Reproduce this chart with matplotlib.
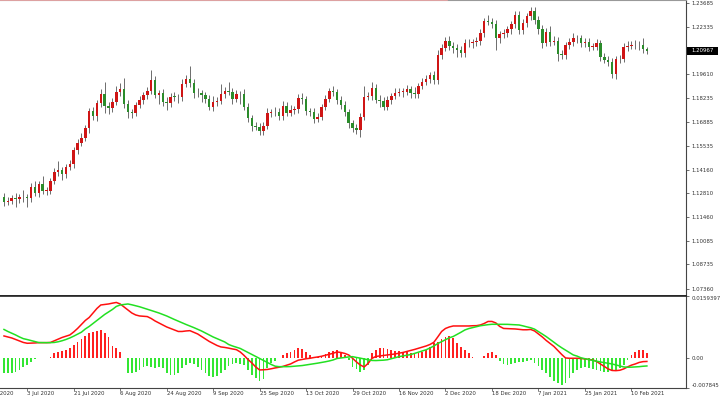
import matplotlib
matplotlib.use('Agg')
import matplotlib.pyplot as plt
import numpy as np
from matplotlib.patches import Rectangle
from matplotlib.transforms import blended_transform_factory

# daily candles (open of each bar = previous close)
first_open = 1.1262
closes = [
    1.1233, 1.1236, 1.1252, 1.1246, 1.1261, 1.1258, 1.1252, 1.1315, 1.1284, 1.1332,
    1.1294, 1.1296, 1.1351, 1.1402, 1.1414, 1.1389, 1.1429, 1.1448, 1.1528, 1.1570,
    1.1597, 1.1652, 1.1751, 1.1722, 1.1795, 1.1847, 1.1780, 1.1767, 1.1803, 1.1861,
    1.1879, 1.1791, 1.1744, 1.1741, 1.1785, 1.1814, 1.1841, 1.1867, 1.1928, 1.1844,
    1.1852, 1.1801, 1.1795, 1.1833, 1.1831, 1.1829, 1.1904, 1.1934, 1.1913, 1.1856,
    1.1852, 1.1844, 1.1821, 1.1776, 1.1804, 1.1810, 1.1848, 1.1864, 1.1862, 1.1820,
    1.1847, 1.1846, 1.1776, 1.1711, 1.1664, 1.1661, 1.1637, 1.1667, 1.1740, 1.1743,
    1.1747, 1.1722, 1.1781, 1.1741, 1.1757, 1.1761, 1.1824, 1.1818, 1.1749, 1.1743,
    1.1707, 1.1719, 1.1772, 1.1820, 1.1867, 1.1858, 1.1814, 1.1785, 1.1747, 1.1681,
    1.1652, 1.1642, 1.1719, 1.1833, 1.1837, 1.1881, 1.1814, 1.1810, 1.1776, 1.1814,
    1.1837, 1.1856, 1.1860, 1.1861, 1.1875, 1.1852, 1.1848, 1.1894, 1.1919, 1.1936,
    1.1955, 1.1928, 1.2071, 1.2113, 1.2151, 1.2123, 1.2110, 1.2100, 1.2081, 1.2142,
    1.2138, 1.2144, 1.2150, 1.2199, 1.2267, 1.2262, 1.2248, 1.2167, 1.2190, 1.2195,
    1.2218, 1.2248, 1.2300, 1.2214, 1.2256, 1.2294, 1.2323, 1.2271, 1.2218, 1.2142,
    1.2205, 1.2147, 1.2153, 1.2077, 1.2071, 1.2128, 1.2147, 1.2170, 1.2166, 1.2138,
    1.2144, 1.2119, 1.2119, 1.2138, 1.2062, 1.2043, 1.2033, 1.1963, 1.2047, 1.2050,
    1.2119, 1.2125, 1.2128, 1.2127, 1.2130, 1.2104, 1.20967,
]
upper_wick_pips = [
    18, 25, 20, 30, 15, 40, 20, 22, 35, 18,
    45, 20, 15, 22, 50, 18, 20, 25, 15, 20,
    30, 18, 15, 25, 20, 30, 70, 20, 25, 35,
    30, 60, 25, 20, 15, 20, 18, 22, 60, 25,
    20, 25, 30, 20, 25, 18, 30, 25, 75, 20,
    25, 20, 18, 22, 30, 20, 60, 25, 55, 20,
    25, 20, 30, 20, 18, 25, 20, 22, 30, 20,
    25, 20, 28, 20, 30, 18, 25, 30, 20, 22,
    25, 20, 20, 25, 18, 25, 20, 22, 25, 18,
    20, 25, 20, 60, 20, 35, 25, 30, 20, 25,
    18, 25, 20, 22, 25, 20, 35, 18, 20, 22,
    20, 25, 30, 20, 25, 28, 20, 22, 25, 20,
    18, 20, 25, 20, 18, 35, 22, 25, 20, 25,
    20, 18, 25, 20, 22, 18, 25, 20, 25, 22,
    20, 30, 25, 20, 25, 20, 22, 25, 18, 20,
    25, 22, 20, 25, 20, 22, 25, 20, 18, 22,
    20, 25, 22, 30, 20, 40, 15,
]
lower_wick_pips = [
    25, 20, 18, 45, 20, 25, 50, 20, 18, 25,
    20, 22, 18, 20, 25, 30, 20, 18, 22, 20,
    18, 20, 25, 20, 30, 22, 40, 35, 20, 18,
    22, 25, 35, 30, 20, 18, 22, 20, 18, 20,
    55, 20, 40, 22, 25, 30, 20, 18, 25, 30,
    20, 40, 22, 20, 25, 22, 20, 25, 20, 30,
    20, 55, 22, 25, 30, 20, 25, 22, 20, 25,
    22, 20, 25, 20, 18, 22, 20, 25, 22, 20,
    25, 20, 22, 18, 20, 22, 25, 20, 22, 25,
    20, 20, 40, 22, 20, 25, 20, 35, 22, 20,
    25, 20, 22, 30, 20, 25, 20, 22, 18, 20,
    25, 20, 22, 25, 20, 22, 25, 40, 20, 22,
    20, 25, 22, 20, 25, 20, 22, 70, 25, 22,
    20, 25, 22, 25, 20, 22, 25, 20, 25, 30,
    22, 25, 20, 40, 22, 25, 20, 22, 25, 20,
    22, 25, 20, 22, 25, 20, 22, 25, 30, 22,
    20, 25, 22, 20, 25, 22, 18,
]

# MACD panel, in units of 1e-4
macd_e4 = [
    56.1, 53.5, 50.9, 47.0, 43.2, 39.3, 37.2, 37.5, 38.0, 38.8,
    38.8, 38.8, 39.3, 43.7, 48.3, 52.2, 55.6, 58.7, 66.4, 75.5,
    85.8, 96.2, 103.9, 115.5, 127.2, 136.2, 137.5, 138.8, 140.9, 142.7,
    138.8, 131.1, 123.3, 115.5, 110.4, 107.8, 107.0, 106.2, 101.3, 94.9,
    89.7, 84.5, 79.4, 75.5, 71.6, 67.7, 67.7, 69.0, 69.8, 65.7,
    61.3, 54.8, 48.3, 41.9, 36.7, 31.5, 27.7, 26.4, 24.6, 22.5,
    20.7, 14.7, 5.7, -4.7, -13.7, -24.0, -31.8, -31.3, -30.5, -28.7,
    -26.6, -24.8, -22.7, -19.6, -16.3, -11.1, -6.5, -4.7, -2.8, -1.6,
    0.3, 1.8, 3.6, 6.2, 8.8, 11.4, 14.7, 13.4, 10.9, 7.0,
    -1.5, -11.0, -19.0, -24.0, -15.0, -2.0, 3.1, 4.4, 5.7, 7.0,
    8.3, 9.6, 11.4, 13.4, 16.0, 18.6, 21.2, 24.3, 27.7, 30.2,
    34.1, 39.8, 53.5, 67.7, 75.5, 79.4, 81.9, 81.9, 81.9, 81.9,
    81.9, 82.5, 82.7, 84.5, 88.4, 93.6, 93.6, 89.7, 80.7, 75.5,
    75.0, 74.7, 74.2, 73.2, 72.1, 72.1, 72.9, 69.0, 61.3, 53.5,
    44.5, 36.7, 29.0, 18.6, 8.3, -0.8, -1.6, -1.6, -1.6, -2.1,
    -3.4, -4.7, -5.9, -9.8, -16.3, -22.7, -29.2, -33.1, -33.6, -32.6,
    -29.2, -24.0, -19.4, -16.3, -12.4, -10.3, -9.8,
]
signal_e4 = [
    72.9, 67.7, 63.1, 58.7, 53.5, 49.1, 46.8, 44.2, 41.6, 39.0,
    38.8, 38.8, 38.8, 39.3, 41.1, 43.7, 47.0, 50.9, 55.6, 60.7,
    65.9, 74.2, 80.7, 88.4, 96.2, 103.9, 111.7, 118.1, 124.6, 132.4,
    136.2, 137.5, 138.8, 136.7, 134.2, 131.6, 128.5, 125.1, 122.0, 118.7,
    115.5, 111.7, 107.8, 103.1, 98.7, 94.4, 90.2, 85.8, 81.9, 77.8,
    73.4, 69.0, 63.8, 58.7, 53.5, 49.1, 45.0, 40.6, 34.1, 30.2,
    26.9, 23.8, 18.6, 13.4, 8.3, 3.1, -2.1, -7.2, -12.4, -17.6,
    -22.0, -23.3, -23.3, -23.3, -23.0, -22.2, -21.5, -20.4, -18.9, -17.6,
    -15.8, -14.2, -12.4, -10.6, -8.5, -5.9, -2.1, -0.8, 0.5, 1.8,
    2.6, 0.5, -1.3, -3.4, -5.4, -7.2, -7.5, -7.0, -6.5, -5.4,
    -2.8, -0.3, 2.6, 4.4, 6.2, 8.0, 10.9, 14.2, 17.3, 20.4,
    25.1, 30.2, 36.4, 41.4, 46.3, 51.4, 54.8, 60.2, 65.7, 71.6,
    75.2, 77.6, 80.1, 82.5, 84.0, 85.3, 86.3, 86.3, 86.3, 86.3,
    86.1, 85.6, 85.0, 84.5, 82.2, 79.6, 77.3, 73.7, 67.5, 61.0,
    54.5, 47.3, 39.8, 32.3, 25.6, 19.4, 12.9, 7.0, 3.9, -0.5,
    -2.8, -4.9, -7.0, -9.0, -11.1, -12.9, -14.5, -16.3, -18.9, -21.5,
    -24.0, -24.8, -24.6, -24.0, -23.3, -22.2, -21.5,
]
hist_e4 = [
    -40.3, -40.3, -39.6, -37.0, -31.8, -24.0, -18.9, -11.1, -3.4, -1.6,
    -0.8, -0.3, 2.6, 11.4, 15.5, 18.1, 19.9, 24.3, 32.8, 41.4,
    48.3, 56.1, 63.1, 67.2, 69.8, 71.6, 63.1, 54.3, 30.2, 24.3,
    15.5, -0.8, -40.3, -38.8, -36.2, -31.8, -24.8, -21.5, -24.8, -27.4,
    -23.3, -27.4, -40.3, -44.7, -44.7, -40.3, -27.4, -18.9, -14.5, -16.3,
    -23.3, -31.8, -40.3, -47.3, -50.7, -47.3, -40.3, -31.8, -21.5, -16.3,
    -14.5, -16.3, -18.9, -31.8, -44.7, -53.3, -59.5, -55.8, -27.4, -14.5,
    -7.8, -1.6, 7.0, 11.4, 15.5, 19.9, 24.3, 21.7, 15.5, 7.0,
    -1.6, 0.5, 2.6, 9.6, 15.5, 18.1, 19.9, 15.5, 7.0, -5.9,
    -23.3, -30.0, -36.2, -31.8, -18.9, 11.4, 19.9, 24.3, 24.3, 21.7,
    19.9, 18.1, 18.1, 15.5, 15.5, 12.9, 11.4, 12.9, 15.5, 19.9,
    28.4, 37.2, 41.4, 47.6, 54.3, 56.1, 50.1, 37.2, 26.9, 19.9,
    11.4, 2.6, -1.6, -0.8, 4.4, 12.9, 15.5, 7.0, -7.8, -15.5,
    -18.9, -16.3, -12.9, -10.3, -10.3, -7.8, -5.9, -12.9, -21.5, -31.8,
    -40.3, -50.7, -59.5, -66.2, -70.6, -64.6, -53.3, -40.3, -31.8, -27.4,
    -24.8, -27.4, -30.0, -31.8, -33.6, -36.2, -36.2, -33.6, -31.8, -27.4,
    -18.9, -5.9, 7.0, 15.5, 19.9, 19.9, 11.4,
]

date_labels = ['17 Jun 2020', '3 Jul 2020', '21 Jul 2020', '6 Aug 2020', '24 Aug 2020',
               '9 Sep 2020', '25 Sep 2020', '13 Oct 2020', '29 Oct 2020', '16 Nov 2020',
               '2 Dec 2020', '18 Dec 2020', '7 Jan 2021', '25 Jan 2021', '10 Feb 2021']
date_bars = [-6, 6, 18, 30, 42, 54, 66, 78, 90, 102, 114, 126, 138, 150, 162]

price_ticks = [1.23685, 1.22335, 1.19610, 1.18235, 1.16885, 1.15535, 1.14160,
               1.12810, 1.11460, 1.10085, 1.08735, 1.07360]
last_price = 1.20967
price_range = (1.06934, 1.23857)
macd_range = (-0.007845, 0.0159397)
macd_ticks = [0.0159397, 0.0, -0.007845]
macd_tick_labels = ['0.0159397', '0.00', '-0.007845']

RED = '#cf1515'
GREEN = '#2b8c2b'
FS = 3.9

n = len(closes)
x = np.arange(n)
c = np.array(closes)
o = np.concatenate([[first_open], c[:-1]])
hi = np.maximum(o, c) + np.array(upper_wick_pips) * 1e-4
lo = np.minimum(o, c) - np.array(lower_wick_pips) * 1e-4
rising = c >= o

fig = plt.figure(figsize=(7.2, 4.04), dpi=100)
W, H = 720.0, 404.0
ax = fig.add_axes([0, 1 - 296 / H, 686 / W, 296 / H])
m = fig.add_axes([0, 16 / H, 686 / W, 92 / H])

xlim = (-1.03, 176.1)

# candles
ax.vlines(x, lo, hi, color='#555555', lw=0.6, zorder=2)
body = np.maximum(np.abs(c - o), 0.0004)
ax.bar(x, body, bottom=np.minimum(o, c), width=0.64,
       color=np.where(rising, RED, GREEN), edgecolor='none', zorder=3)
ax.set_xlim(*xlim)
ax.set_ylim(*price_range)
ax.set_xticks([])
ax.yaxis.tick_right()
ax.set_yticks(price_ticks)
ax.set_yticklabels(['%.5f' % p for p in price_ticks])
ax.tick_params(axis='y', labelsize=FS, length=2.5, width=0.5, pad=1.5,
               colors='#333333')
ax.spines['left'].set_visible(False)
ax.spines['top'].set_color('#999999')
ax.spines['top'].set_linewidth(0.8)
ax.spines['right'].set_color('#444444')
ax.spines['right'].set_linewidth(0.8)
ax.spines['bottom'].set_color('#222222')
ax.spines['bottom'].set_linewidth(1.2)
# pinkish stretch along the top edge on the left
ax.axhline(price_range[1], xmin=0, xmax=447 / 686, color='#eba3a3', lw=1.2, zorder=4)

# current price box
tr = blended_transform_factory(ax.transAxes, ax.transData)
box_h = 8 * (price_range[1] - price_range[0]) / 296
ax.add_patch(Rectangle((1.0015, last_price - box_h / 2), 31 / 686, box_h,
                       transform=tr, facecolor='black', edgecolor='none',
                       clip_on=False, zorder=5))
ax.text(1.0015 + 15.5 / 686, last_price, '%.5f' % last_price, transform=tr,
        ha='center', va='center', color='white', fontsize=FS, zorder=6)

# MACD panel
hist = np.array(hist_e4) * 1e-4
m.bar(x, hist, width=0.45, color=np.where(hist >= 0, '#ff2020', '#33e633'),
      edgecolor='none', zorder=2)
m.plot(x, np.array(macd_e4) * 1e-4, color='#ff1010', lw=1.1, zorder=3)
m.plot(x, np.array(signal_e4) * 1e-4, color='#22e022', lw=1.1, zorder=3)
m.set_xlim(*xlim)
m.set_ylim(*macd_range)
m.yaxis.tick_right()
m.set_yticks(macd_ticks)
m.set_yticklabels(macd_tick_labels)
m.tick_params(axis='y', labelsize=FS, length=2.5, width=0.5, pad=1.5,
              colors='#333333')
labs = m.get_yticklabels()
labs[0].set_va('top')
labs[-1].set_va('bottom')
m.set_xticks([b for b in date_bars if b >= xlim[0]])
m.set_xticklabels([])
m.tick_params(axis='x', length=2, width=0.5, colors='#444444')
for b, lab in zip(date_bars, date_labels):
    m.text(b, -0.035, lab, transform=blended_transform_factory(m.transData, m.transAxes),
           ha='left', va='top', fontsize=FS, color='#333333', clip_on=False)
m.spines['left'].set_visible(False)
m.spines['top'].set_color('#222222')
m.spines['top'].set_linewidth(1.2)
m.spines['right'].set_color('#444444')
m.spines['right'].set_linewidth(0.8)
m.spines['bottom'].set_color('#444444')
m.spines['bottom'].set_linewidth(0.8)

fig.savefig('out.png', dpi=100)
